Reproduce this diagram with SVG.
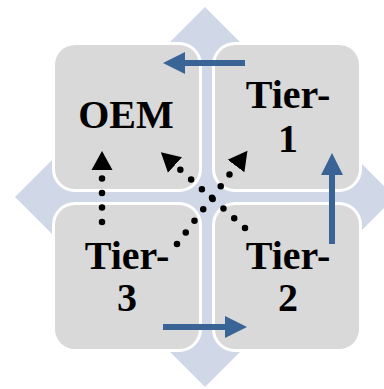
<svg xmlns="http://www.w3.org/2000/svg" width="384" height="389" viewBox="0 0 384 389">
<style>
.box{fill:#D9D9D9;stroke:#FFFFFF;stroke-width:6;paint-order:stroke}
.lbl{font-family:"Liberation Serif","Times New Roman",serif;font-weight:bold;font-size:40px;fill:#000;text-anchor:middle}
.flow{fill:none;stroke:#3A6496;stroke-width:6}
.dot{fill:none;stroke:#000;stroke-width:6.5;stroke-linecap:round;stroke-dasharray:0 14.5}
</style>
<defs>
<marker id="bhead" markerUnits="userSpaceOnUse" markerWidth="23" markerHeight="23" viewBox="0 -11.5 23 23" refX="0" refY="0" orient="auto">
<path d="M0,-11 L22,0 L0,11 Z" fill="#3A6496"/>
</marker>
<marker id="khead" markerUnits="userSpaceOnUse" markerWidth="21" markerHeight="22" viewBox="0 -11 21 22" refX="0" refY="0" orient="auto">
<path d="M0,-10.5 L19,0 L0,10.5 Z" fill="#000"/>
</marker>
</defs>
<g id="background">
<path d="M205,7 L270,72 L225,72 L225,177 L330,177 L330,132 L395,197 L330,262 L330,217 L225,217 L225,322 L270,322 L205,387 L140,322 L185,322 L185,217 L80,217 L80,262 L15,197 L80,132 L80,177 L185,177 L185,72 L140,72 Z" fill="#D0D8E8"/>
</g>
<g id="oem">
<rect class="box" x="55" y="45" width="144" height="144" rx="20"/>
<text class="lbl" x="126" y="128">OEM</text>
</g>
<g id="tier1">
<rect class="box" x="215" y="45" width="144" height="144" rx="20"/>
<text class="lbl" x="288" y="108">Tier-</text>
<text class="lbl" x="288" y="152">1</text>
</g>
<g id="tier3">
<rect class="box" x="55" y="205" width="144" height="144" rx="20"/>
<text class="lbl" x="127" y="269">Tier-</text>
<text class="lbl" x="127" y="311">3</text>
</g>
<g id="tier2">
<rect class="box" x="215" y="205" width="144" height="144" rx="20"/>
<text class="lbl" x="288" y="269">Tier-</text>
<text class="lbl" x="288" y="311">2</text>
</g>
<g id="connectors">
<path class="flow" d="M245,63 L185,63" marker-end="url(#bhead)"/>
<path class="flow" d="M332,244 L332,175" marker-end="url(#bhead)"/>
<path class="flow" d="M163,327 L225,327" marker-end="url(#bhead)"/>
<path class="dot" d="M102,222 L102,170" marker-end="url(#khead)"/>
<path class="dot" d="M177,244 L236,166" marker-end="url(#khead)"/>
<path class="dot" d="M245,228 L175,165" marker-end="url(#khead)"/>
</g>
</svg>
